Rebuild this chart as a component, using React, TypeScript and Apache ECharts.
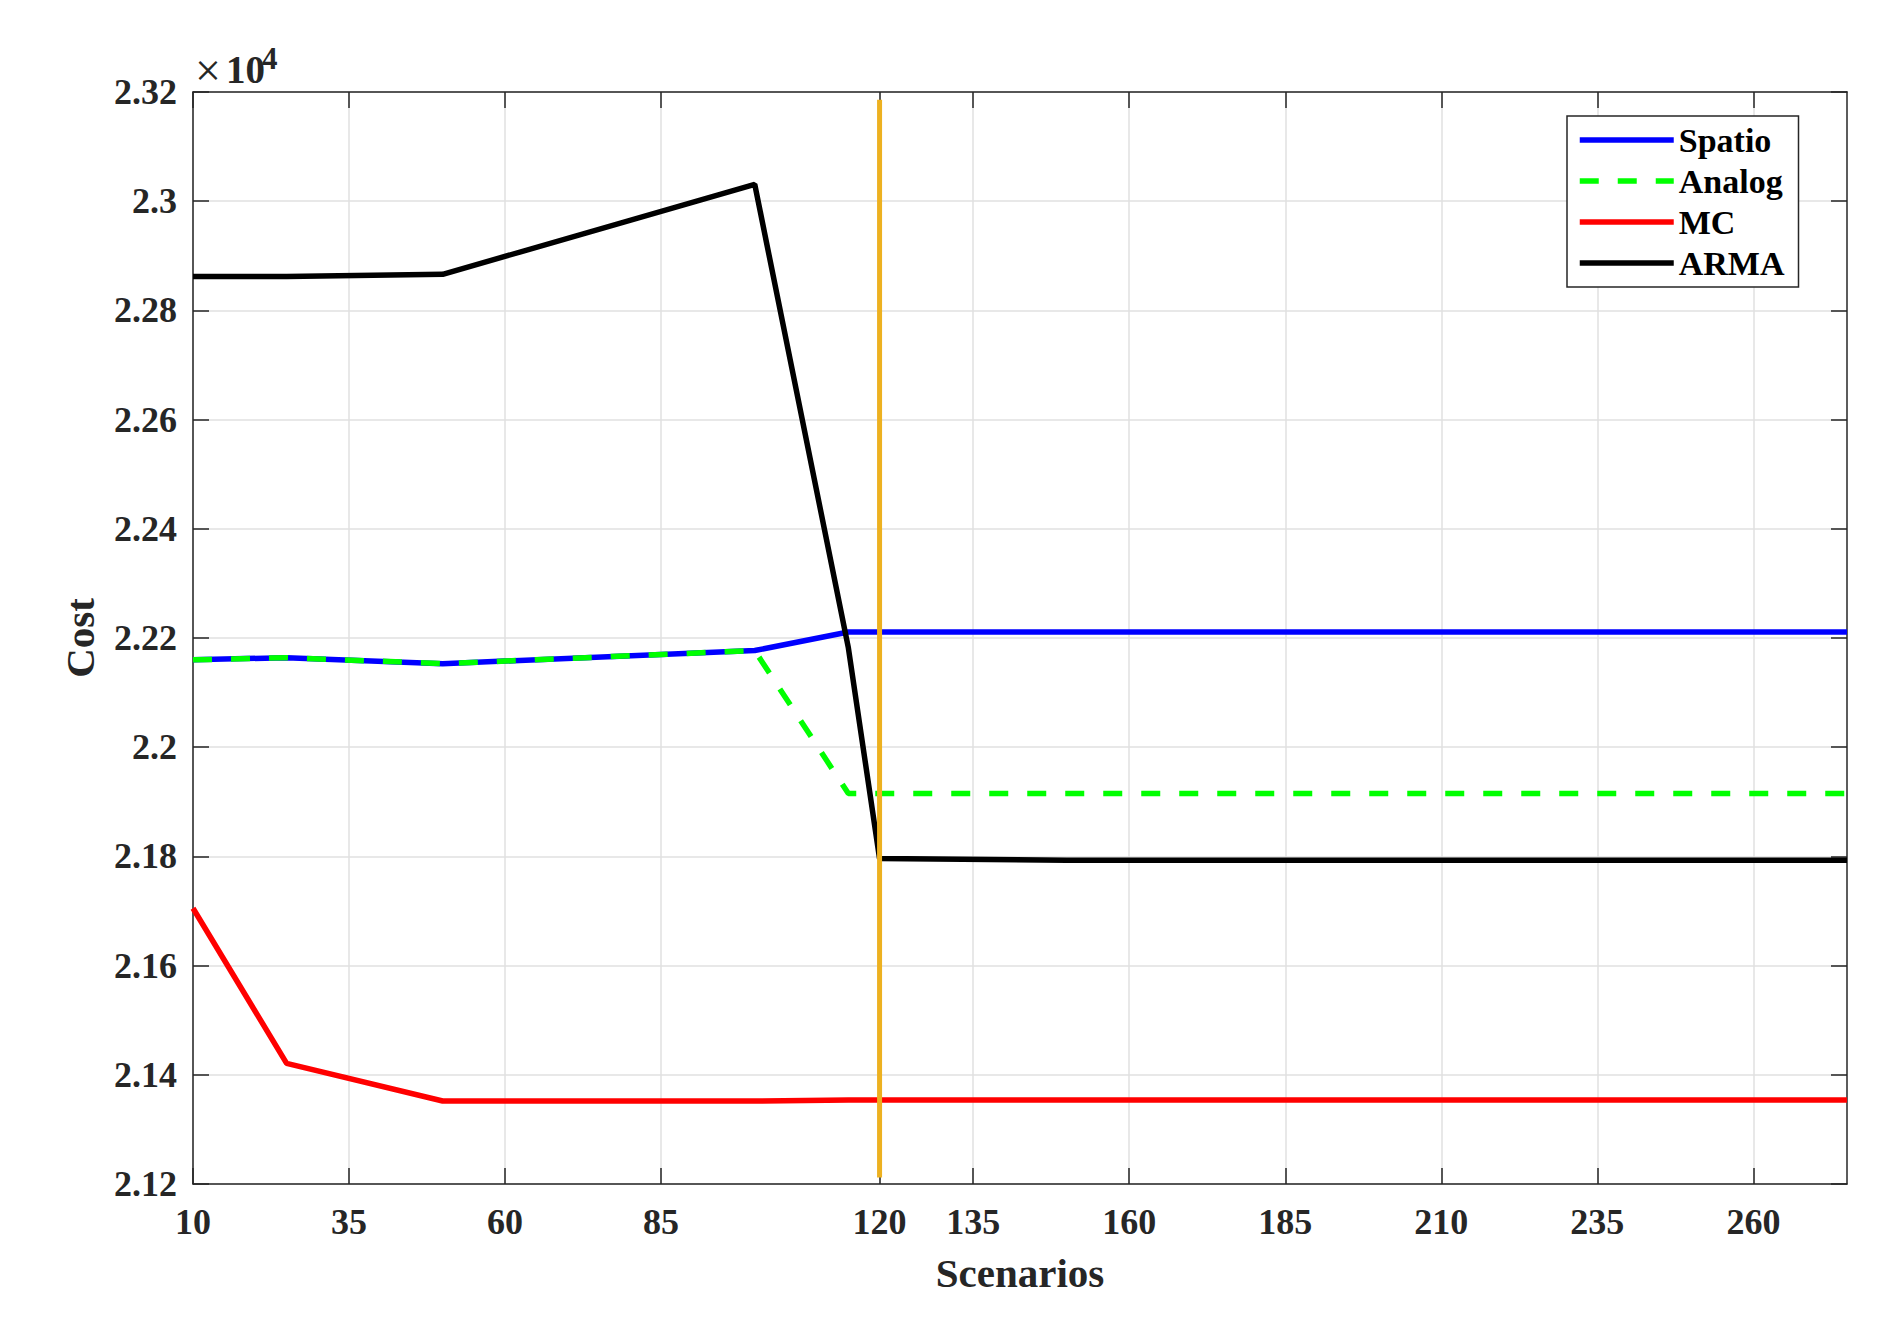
import React, { useEffect, useRef } from "react";
import * as echarts from "echarts";

const scenarios = [10, 25, 50, 100, 115, 120, 150, 275];
const spatio = [2.216, 2.2164, 2.2153, 2.2177, 2.2211, 2.2211, 2.2211, 2.2211];
const analog = [2.216, 2.2164, 2.2153, 2.2177, 2.1915, 2.1915, 2.1915, 2.1915];
const mc = [2.1705, 2.1421, 2.1352, 2.1352, 2.1354, 2.1354, 2.1354, 2.1354];
const arma = [2.2862, 2.2862, 2.2866, 2.3031, 2.2182, 2.1796, 2.1793, 2.1793];
const markerX = [120, 120];
const markerY = [2.1212, 2.3186];
const xTicks = [10, 35, 60, 85, 120, 135, 160, 185, 210, 235, 260];

const FONT = "'Liberation Serif', 'Times New Roman', serif";
const AX = "#262626";

function pairs(xs: number[], ys: number[]) {
  return xs.map((x, i) => [x, ys[i]]);
}

export default function App() {
  const ref = useRef<HTMLDivElement>(null);
  useEffect(() => {
    document.body.style.margin = "0";
    const chart = echarts.init(ref.current!, null, { renderer: "svg" });
    const axisLine = { show: true, onZero: false, lineStyle: { color: AX, width: 1.5 } };
    const tick = { show: true, inside: true, length: 16, lineStyle: { color: AX, width: 1.5 } };
    const lineSeries = (name: string, ys: number[], color: string, dashed = false) => ({
      name,
      type: "line",
      data: pairs(scenarios, ys),
      symbol: "none",
      showSymbol: false,
      lineStyle: {
        color,
        width: 5.5,
        type: dashed ? [19, 19] : "solid",
        cap: "butt",
      },
      itemStyle: { color },
    });
    chart.setOption({
      animation: false,
      backgroundColor: "#ffffff",
      grid: { left: 193, right: 57, top: 92, bottom: 154 },
      xAxis: [
        {
          type: "value",
          position: "bottom",
          min: 10,
          max: 275,
          axisLine,
          axisTick: { ...tick, customValues: xTicks },
          axisLabel: {
            customValues: xTicks,
            fontFamily: FONT,
            fontWeight: "bold",
            fontSize: 36,
            color: AX,
            margin: 20,
          },
          splitLine: { show: true, lineStyle: { color: "#e0e0e0", width: 1.5 } },
          name: "Scenarios",
          nameLocation: "middle",
          nameGap: 68,
          nameTextStyle: { fontFamily: FONT, fontWeight: "bold", fontSize: 41, color: AX },
        },
        {
          type: "value",
          position: "top",
          min: 10,
          max: 275,
          axisLine,
          axisTick: { ...tick, customValues: xTicks },
          axisLabel: { show: false },
          splitLine: { show: false },
        },
      ],
      yAxis: [
        {
          type: "value",
          position: "left",
          min: 2.12,
          max: 2.32,
          interval: 0.02,
          axisLine,
          axisTick: tick,
          axisLabel: {
            fontFamily: FONT,
            fontWeight: "bold",
            fontSize: 36,
            color: AX,
            margin: 16,
          },
          splitLine: { show: true, lineStyle: { color: "#e0e0e0", width: 1.5 } },
          name: "Cost",
          nameLocation: "middle",
          nameGap: 93,
          nameTextStyle: { fontFamily: FONT, fontWeight: "bold", fontSize: 41, color: AX },
        },
        {
          type: "value",
          position: "right",
          min: 2.12,
          max: 2.32,
          interval: 0.02,
          axisLine,
          axisTick: tick,
          axisLabel: { show: false },
          splitLine: { show: false },
        },
      ],
      legend: {
        orient: "vertical",
        left: 1567,
        top: 116,
        data: ["Spatio", "Analog", "MC", "ARMA"],
        itemWidth: 94,
        itemHeight: 34,
        itemGap: 7,
        padding: [7, 14, 7, 10],
        backgroundColor: "#ffffff",
        borderColor: AX,
        borderWidth: 1.5,
        borderRadius: 0,
        itemStyle: { opacity: 0 },
        lineStyle: { width: 5.5 },
        textStyle: { fontFamily: FONT, fontWeight: "bold", fontSize: 34, color: "#000" },
      },
      graphic: [
        {
          type: "text",
          left: 195,
          top: 47,
          style: {
            text: "×",
            font: "normal 46px 'Liberation Serif', serif",
            fill: AX,
          },
        },
        {
          type: "text",
          left: 226,
          top: 50,
          style: {
            text: "10",
            font: "bold 39px 'Liberation Serif', serif",
            fill: AX,
          },
        },
        {
          type: "text",
          left: 262,
          top: 43,
          style: {
            text: "4",
            font: "bold 31px 'Liberation Serif', serif",
            fill: AX,
          },
        },
      ],
      series: [
        lineSeries("Spatio", spatio, "#0000ff"),
        lineSeries("Analog", analog, "#00ff00", true),
        lineSeries("MC", mc, "#ff0000"),
        lineSeries("ARMA", arma, "#000000"),
        {
          name: "marker",
          type: "line",
          data: pairs(markerX, markerY),
          symbol: "none",
          lineStyle: { color: "#EDB120", width: 5 },
          itemStyle: { color: "#EDB120" },
        },
      ],
    });
    return () => chart.dispose();
  }, []);
  return <div ref={ref} style={{ width: 1904, height: 1338 }} />;
}
